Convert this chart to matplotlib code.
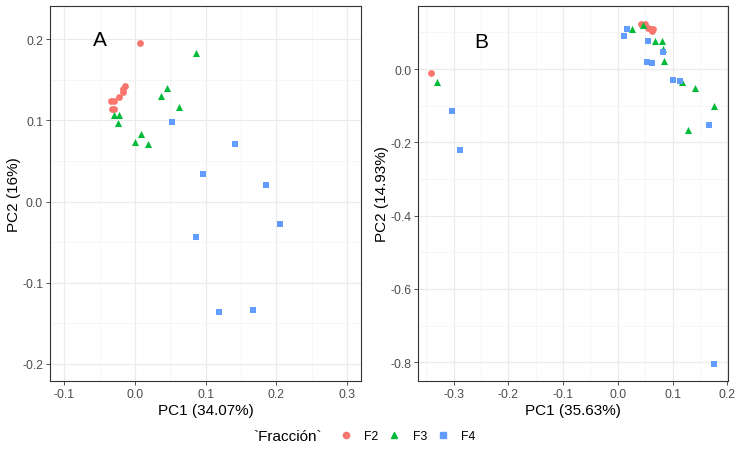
import matplotlib.pyplot as plt
from matplotlib.lines import Line2D
from matplotlib.offsetbox import HPacker

plt.rcParams['font.family'] = ['Liberation Sans', 'DejaVu Sans']

# fractions and ggplot default colours / shapes
fractions = ['F2', 'F3', 'F4']
colors = {'F2': '#F8766D', 'F3': '#00BA38', 'F4': '#619CFF'}
markers = {'F2': 'o', 'F3': '^', 'F4': 's'}
sizes = {'F2': 24, 'F3': 26, 'F4': 17}

# panel A scores (PC1, PC2)
a_f2_pc1 = [0.0075, -0.0147, -0.017, -0.0176, -0.023, -0.029, -0.0335, -0.0326, -0.030]
a_f2_pc2 = [0.196, 0.1427, 0.139, 0.135, 0.129, 0.1235, 0.1235, 0.114, 0.114]
a_f3_pc1 = [0.0868, 0.0448, 0.0363, 0.0618, -0.0293, -0.0232, -0.024, 0.0089, 0.0004, 0.0184]
a_f3_pc2 = [0.1827, 0.1395, 0.130, 0.1168, 0.107, 0.107, 0.0968, 0.0832, 0.0737, 0.0708]
a_f4_pc1 = [0.0524, 0.141, 0.0958, 0.186, 0.2048, 0.0858, 0.1184, 0.1666]
a_f4_pc2 = [0.0975, 0.0704, 0.0346, 0.021, -0.0272, -0.0432, -0.1358, -0.133]

# panel B scores (PC1, PC2)
b_f2_pc1 = [-0.3408, 0.043, 0.050, 0.055, 0.060, 0.065, 0.062]
b_f2_pc2 = [-0.010, 0.123, 0.123, 0.113, 0.108, 0.110, 0.105]
b_f3_pc1 = [-0.3305, 0.0263, 0.0457, 0.0683, 0.0804, 0.0835, 0.0848, 0.1177, 0.1415, 0.176, 0.128]
b_f3_pc2 = [-0.0347, 0.108, 0.120, 0.0765, 0.0765, 0.0546, 0.021, -0.0347, -0.053, -0.102, -0.166]
b_f4_pc1 = [-0.3037, -0.288, 0.0104, 0.0171, 0.0555, 0.0835, 0.0525, 0.0634, 0.1006, 0.1146, 0.167, 0.175]
b_f4_pc2 = [-0.1157, -0.2205, 0.091, 0.109, 0.0774, 0.0455, 0.019, 0.0155, -0.031, -0.0328, -0.152, -0.805]

panels = [
    {'label': 'A', 'xlabel': 'PC1 (34.07%)', 'ylabel': 'PC2 (16%)',
     'data': {'F2': (a_f2_pc1, a_f2_pc2), 'F3': (a_f3_pc1, a_f3_pc2), 'F4': (a_f4_pc1, a_f4_pc2)},
     'xticks': [-0.1, 0.0, 0.1, 0.2, 0.3], 'yticks': [-0.2, -0.1, 0.0, 0.1, 0.2],
     'xlim': (-0.1203, 0.320), 'ylim': (-0.221, 0.241), 'tag_xy': (-0.049, 0.2),
     'pos': [0.0679, 0.1696, 0.4226, 0.8152]},
    {'label': 'B', 'xlabel': 'PC1 (35.63%)', 'ylabel': 'PC2 (14.93%)',
     'data': {'F2': (b_f2_pc1, b_f2_pc2), 'F3': (b_f3_pc1, b_f3_pc2), 'F4': (b_f4_pc1, b_f4_pc2)},
     'xticks': [-0.3, -0.2, -0.1, 0.0, 0.1, 0.2], 'yticks': [-0.8, -0.6, -0.4, -0.2, 0.0],
     'xlim': (-0.365, 0.202), 'ylim': (-0.851, 0.172), 'tag_xy': (-0.249, 0.074),
     'pos': [0.5683, 0.1696, 0.4212, 0.8152]},
]

fig = plt.figure(figsize=(7.36, 4.6), dpi=100)

for p in panels:
    ax = fig.add_axes(p['pos'])
    for f in fractions:
        xs, ys = p['data'][f]
        ax.scatter(xs, ys, c=colors[f], marker=markers[f], s=sizes[f], linewidths=0, zorder=3)
    xt, yt = p['xticks'], p['yticks']
    ax.set_xticks(xt)
    ax.set_yticks(yt)
    ax.set_xticklabels(['%.1f' % t for t in xt])
    ax.set_yticklabels(['%.1f' % t for t in yt])
    # minor grid halfway between majors, like theme_bw
    step_x = xt[1] - xt[0]
    step_y = yt[1] - yt[0]
    ax.set_xticks([xt[0] - step_x / 2] + [t + step_x / 2 for t in xt], minor=True)
    ax.set_yticks([yt[0] - step_y / 2] + [t + step_y / 2 for t in yt], minor=True)
    ax.set_xlim(p['xlim'])
    ax.set_ylim(p['ylim'])
    ax.grid(which='major', color='#EBEBEB', linewidth=0.9, zorder=0)
    ax.grid(which='minor', color='#F3F3F3', linewidth=0.5, zorder=0)
    ax.set_axisbelow(True)
    ax.tick_params(which='minor', length=0)
    ax.tick_params(which='major', length=3, width=0.6, color='#333333',
                   labelsize=8.8, labelcolor='#4D4D4D', pad=2)
    for s in ax.spines.values():
        s.set_color('#333333')
        s.set_linewidth(0.8)
    ax.set_xlabel(p['xlabel'], fontsize=11, labelpad=2)
    ax.set_ylabel(p['ylabel'], fontsize=11, labelpad=1)
    ax.text(p['tag_xy'][0], p['tag_xy'][1], p['label'], fontsize=15, ha='center', va='center')

# legend at the bottom, title to the left of the keys
handles = [Line2D([], [], linestyle='', marker=markers[f], color=colors[f], markersize=4.5) for f in fractions]
leg = fig.legend(handles, fractions, title='`Fracción`', loc='center', bbox_to_anchor=(0.495, 0.05),
                 ncol=3, frameon=False, fontsize=8.8, title_fontsize=11,
                 handlelength=1.2, handletextpad=0.9, columnspacing=0.7)
title_box = leg._legend_title_box
handle_box = leg._legend_handle_box
leg._legend_box._children = [HPacker(pad=0, sep=12, align='center', children=[title_box, handle_box])]

fig.savefig('out.png', dpi=100)
